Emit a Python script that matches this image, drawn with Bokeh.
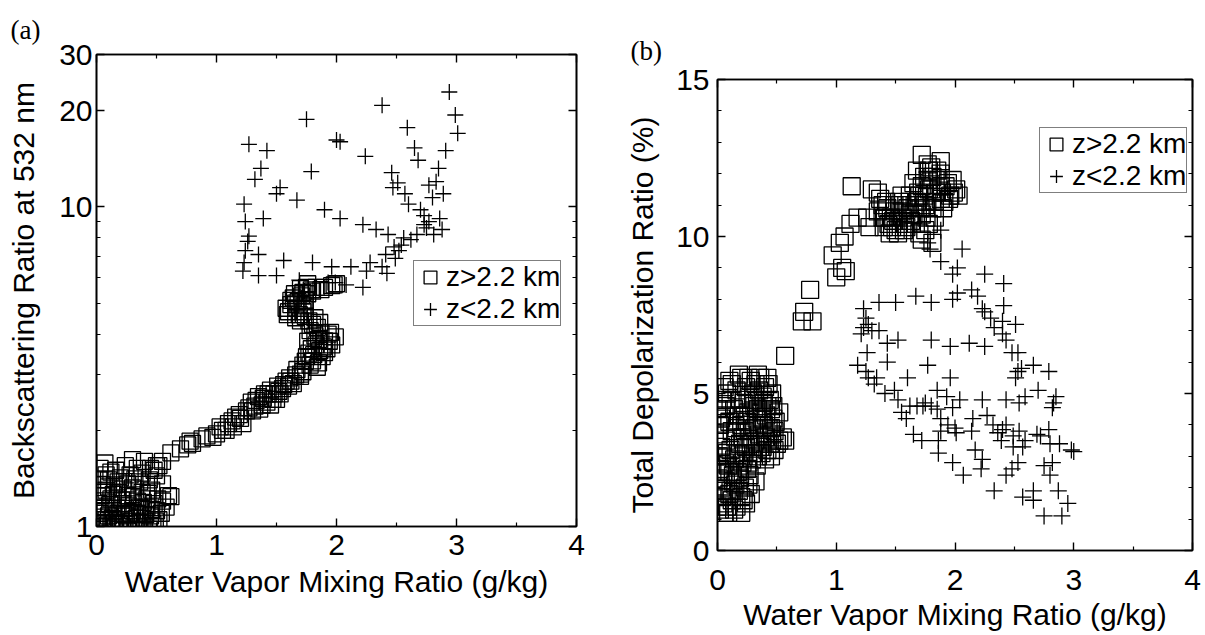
from bokeh.plotting import figure
from bokeh.layouts import row, column
from bokeh.models import (Range1d, FixedTicker, LinearAxis, LogAxis, CustomJSTickFormatter,
                          BasicTickFormatter)
from bokeh.embed import file_html
from bokeh.resources import INLINE

# ---------------- data: panel (a) ----------------
a_hi_x = [0.02, 0.05, 0.08, 0.03, 0.06, 0.10, 0.12, 0.15, 0.18, 0.20, 0.22, 0.25, 0.28, 0.30, 0.33, 0.35,
          0.38, 0.40, 0.42, 0.45, 0.47, 0.50, 0.55, 0.52, 0.04, 0.08, 0.12, 0.15, 0.18, 0.22, 0.26, 0.30,
          0.34, 0.38, 0.42, 0.46, 0.10, 0.20, 0.28, 0.36, 0.44, 0.48, 0.40, 0.52, 0.30, 0.60, 0.58, 0.05,
          0.14, 0.24, 0.32, 0.44, 0.16, 0.08, 0.02, 0.36, 0.26,
          0.01, 0.04, 0.07, 0.09, 0.11, 0.13, 0.17, 0.19, 0.21, 0.23, 0.27, 0.29, 0.31, 0.34, 0.37, 0.39,
          0.41, 0.43, 0.46, 0.49, 0.51, 0.54, 0.02, 0.06, 0.10, 0.14, 0.18, 0.22, 0.26, 0.32, 0.38, 0.45,
          0.50, 0.55, 0.12, 0.24, 0.34, 0.03, 0.07, 0.28, 0.16, 0.40, 0.48, 0.62,
          0.78, 0.80, 0.76, 0.97, 1.03, 1.00, 1.08, 1.13, 1.10, 1.19, 1.16, 1.22, 1.25, 1.29, 1.32, 1.35,
          1.39, 1.42, 1.45, 1.48, 1.51, 1.50, 1.55, 1.58, 1.61, 1.64, 1.67, 1.70, 1.74, 1.72, 1.77, 1.80,
          1.83, 1.86, 1.90, 1.88, 1.96, 1.99, 1.93, 1.87, 1.84, 1.80, 1.78, 1.74, 1.70, 1.67, 1.60, 1.58,
          1.64, 1.66, 1.71, 1.74, 1.76, 1.80, 1.87, 1.96, 1.62, 1.69, 1.76, 1.82, 1.92, 1.85, 1.70, 1.60,
          1.43, 1.38, 1.45, 1.53, 1.30,
          0.50, 0.55, 0.62, 0.70, 0.88, 0.92, 1.05, 1.14, 1.20, 1.27, 1.33, 1.36, 1.40, 1.47, 1.52, 1.56,
          1.62, 1.66, 1.72, 1.75, 1.79, 1.81, 1.85, 1.89, 1.94, 1.90, 1.84, 1.78, 1.95, 1.86, 1.82, 1.77,
          1.72, 1.68, 1.65, 1.70, 1.75, 1.72, 1.62, 1.59, 1.66, 1.73, 1.79, 1.83, 1.90, 1.98, 2.00, 1.76]
a_hi_y = [1.00, 1.02, 1.05, 1.10, 1.15, 1.08, 1.00, 1.03, 1.10, 1.05, 1.00, 1.08, 1.02, 1.12, 1.06, 1.00,
          1.09, 1.04, 1.15, 1.08, 1.02, 1.12, 1.20, 1.05, 1.25, 1.30, 1.22, 1.35, 1.28, 1.18, 1.25, 1.32,
          1.20, 1.28, 1.22, 1.30, 1.40, 1.42, 1.45, 1.38, 1.40, 1.50, 1.60, 1.55, 1.62, 1.25, 1.15, 1.35,
          1.12, 1.14, 0.98, 0.98, 1.50, 1.45, 1.40, 1.15, 0.97,
          1.03, 1.07, 1.12, 1.01, 1.17, 1.06, 1.14, 1.02, 1.21, 1.09, 1.16, 1.04, 1.24, 1.10, 1.03, 1.19,
          1.09, 1.27, 1.13, 1.04, 1.22, 1.10, 1.18, 1.28, 1.33, 1.26, 1.38, 1.31, 1.36, 1.41, 1.47, 1.52,
          1.44, 1.36, 1.48, 1.55, 1.52, 1.52, 1.58, 1.10, 0.99, 0.99, 1.18, 1.24,
          1.85, 1.82, 1.80, 1.90, 2.05, 1.95, 2.00, 2.14, 2.10, 2.24, 2.20, 2.10, 2.30, 2.45, 2.38, 2.55,
          2.52, 2.45, 2.67, 2.60, 2.75, 2.50, 2.70, 2.85, 2.92, 2.80, 3.10, 3.00, 3.29, 3.20, 3.49, 3.30,
          3.70, 3.55, 3.81, 3.40, 3.70, 3.92, 4.00, 4.04, 4.20, 4.29, 4.10, 4.55, 4.40, 4.82, 4.70, 4.82,
          5.19, 5.00, 5.27, 5.10, 5.35, 5.45, 5.51, 5.67, 4.95, 4.60, 3.80, 3.95, 3.60, 3.25, 2.95, 2.75,
          2.60, 2.40, 2.40, 2.60, 2.30,
          1.55, 1.60, 1.70, 1.75, 1.88, 1.92, 2.00, 2.05, 2.18, 2.35, 2.48, 2.33, 2.60, 2.50, 2.65, 2.78,
          2.85, 2.98, 3.05, 3.40, 3.60, 3.45, 3.85, 3.65, 3.80, 3.50, 3.15, 3.20, 4.05, 4.35, 4.50, 4.40,
          4.70, 5.05, 5.35, 5.55, 5.60, 5.40, 5.10, 4.60, 4.50, 4.90, 5.50, 5.60, 5.60, 5.70, 5.75, 5.75]

a_lo_x = [2.94, 2.99, 3.01, 2.91, 2.85, 2.83, 2.89, 2.38, 2.59, 2.65, 2.68, 2.24, 2.46, 2.51, 2.57, 2.60,
          2.77, 2.80, 2.73, 2.86, 2.88, 2.81, 2.73, 2.70, 2.00, 2.03, 1.75, 1.79, 1.67, 1.90, 2.03, 2.22,
          2.33, 2.43, 1.27, 1.42, 1.37, 1.32, 1.53, 1.50, 1.23, 1.39, 1.24, 1.27, 1.24, 1.35, 1.23, 1.22,
          1.35, 1.50, 1.56, 1.80, 1.96, 2.12, 2.25, 1.69, 1.93, 1.99, 2.08, 2.22, 2.28, 2.38, 2.41, 2.48,
          2.54, 2.56, 2.67, 2.49, 2.42, 2.52, 2.62, 2.75, 2.77, 1.26, 2.47]
a_lo_y = [22.9, 19.4, 17.0, 15.0, 13.2, 12.0, 11.0, 20.8, 17.7, 15.3, 14.0, 14.4, 12.8, 11.9, 11.0, 10.2,
          11.7, 10.7, 9.4, 9.2, 8.5, 8.2, 8.8, 9.8, 16.2, 16.0, 18.8, 12.9, 10.5, 9.8, 9.2, 8.8,
          8.5, 8.2, 15.7, 15.0, 13.2, 12.2, 11.5, 11.0, 10.2, 9.2, 9.0, 8.1, 7.3, 7.1, 6.7, 6.3,
          6.1, 6.1, 6.8, 6.7, 6.5, 6.5, 6.3, 5.9, 5.8, 5.8, 5.7, 5.6, 6.7, 6.5, 7.1, 7.5,
          7.6, 8.0, 8.2, 6.9, 6.2, 7.3, 7.9, 8.6, 9.0, 7.8, 11.5]

# ---------------- data: panel (b) ----------------
b_hi_x = [0.57, 0.78, 0.73, 0.71, 0.80, 1.00, 0.97, 1.05, 1.08, 1.07, 1.12, 1.13, 1.30, 1.35, 1.18, 1.26,
          1.28, 1.03,
          1.39, 1.44, 1.49, 1.52, 1.39, 1.49, 1.62, 1.55, 1.45, 1.52, 1.58, 1.65, 1.42, 1.35, 1.47, 1.57,
          1.60,
          1.72, 1.88, 1.68, 1.78, 1.81, 1.88, 1.94, 2.01, 1.96, 1.88, 1.78, 1.72, 1.65, 1.62, 1.59, 1.68,
          1.75, 1.81, 1.88, 1.72, 1.78, 1.72, 1.81, 1.75, 1.84, 1.91, 1.98, 1.70, 1.77,
          1.40, 1.43, 1.46, 1.50, 1.53, 1.56, 1.59, 1.63, 1.66, 1.69, 1.71, 1.74, 1.77, 1.80, 1.83, 1.86,
          1.89, 1.92, 1.95, 1.99, 2.03, 1.85, 1.80, 1.74, 1.67, 1.62, 1.55, 1.48, 1.41, 1.37, 1.90, 1.83,
          1.76, 1.70,
          0.02, 0.05, 0.08, 0.12, 0.16, 0.20, 0.24, 0.03, 0.07, 0.11, 0.15, 0.19, 0.23, 0.27, 0.02, 0.06,
          0.10, 0.14, 0.18, 0.22, 0.26, 0.30, 0.34, 0.38, 0.42, 0.46, 0.03, 0.07, 0.11, 0.15, 0.19, 0.23,
          0.27, 0.31, 0.35, 0.39, 0.43, 0.47, 0.02, 0.06, 0.10, 0.14, 0.18, 0.22, 0.26, 0.30, 0.34, 0.38,
          0.42, 0.46, 0.04, 0.08, 0.12, 0.16, 0.20, 0.24, 0.28, 0.32, 0.36, 0.40, 0.44, 0.55, 0.50, 0.45,
          0.40, 0.48, 0.52, 0.05, 0.09, 0.13, 0.17, 0.21, 0.25, 0.29, 0.33, 0.37, 0.41, 0.45, 0.01, 0.01,
          0.01,
          0.00, 0.04, 0.06, 0.10, 0.14, 0.18, 0.22, 0.26, 0.01, 0.05, 0.09, 0.13, 0.17, 0.21, 0.25, 0.29,
          0.33, 0.37, 0.41, 0.45, 0.49, 0.04, 0.08, 0.12, 0.16, 0.20, 0.24, 0.28, 0.32, 0.36, 0.40, 0.44,
          0.48, 0.03, 0.07, 0.11, 0.15, 0.19, 0.23, 0.27, 0.31, 0.35, 0.39, 0.43, 0.47, 0.10, 0.18, 0.26,
          0.34, 0.42, 0.06, 0.30, 0.38, 0.46, 0.52, 0.57, 0.20, 0.28, 0.32]
b_hi_y = [6.2, 8.3, 7.6, 7.3, 7.3, 8.7, 9.4, 9.0, 8.9, 10.0, 10.4, 11.6, 11.5, 11.4, 10.6, 10.6,
          10.3, 9.8,
          10.6, 10.4, 10.8, 10.5, 11.0, 11.0, 11.1, 10.8, 10.1, 10.1, 10.4, 10.7, 11.1, 10.8, 10.3, 10.2,
          10.9,
          12.6, 12.4, 12.1, 12.1, 11.9, 12.0, 11.7, 11.5, 11.3, 11.6, 11.5, 11.6, 11.7, 11.3, 11.0, 11.1,
          11.0, 10.9, 11.2, 10.7, 10.4, 9.9, 9.8, 10.2, 11.4, 11.1, 11.8, 11.3, 12.3,
          10.3, 10.9, 10.6, 10.2, 11.1, 10.6, 10.3, 10.5, 11.0, 11.4, 10.9, 11.3, 11.8, 11.5, 11.1, 11.8,
          11.4, 11.6, 11.2, 11.4, 11.3, 12.1, 12.2, 11.9, 10.4, 10.7, 11.3, 10.5, 10.6, 11.2, 10.9, 10.6,
          10.6, 10.1,
          1.3, 1.5, 1.4, 1.6, 1.4, 1.7, 1.5, 2.0, 2.2, 1.9, 2.1, 2.3, 2.0, 2.4, 2.6, 2.8,
          2.5, 2.9, 2.7, 3.0, 2.8, 3.1, 3.0, 3.3, 3.2, 3.5, 3.3, 3.5, 3.2, 3.6, 3.4, 3.8,
          3.6, 3.9, 3.7, 4.0, 3.9, 4.2, 4.0, 4.3, 4.1, 4.5, 4.3, 4.7, 4.4, 4.8, 4.5, 4.9,
          4.6, 5.0, 4.8, 5.0, 5.3, 5.1, 5.5, 5.2, 5.4, 5.3, 5.5, 5.2, 4.8, 3.6, 3.4, 3.0,
          2.9, 3.8, 4.4, 1.9, 1.2, 2.4, 3.1, 3.6, 4.1, 4.0, 4.2, 4.4, 4.3, 4.5, 3.0, 3.7,
          4.5,
          1.4, 1.7, 1.2, 1.8, 1.3, 1.9, 1.6, 2.1, 2.3, 2.5, 2.7, 2.2, 2.5, 2.8, 2.6, 2.9,
          2.7, 3.1, 3.6, 3.9, 4.1, 3.0, 3.1, 3.8, 3.9, 4.0, 3.3, 3.4, 3.5, 3.3, 3.6, 3.4,
          3.2, 4.2, 4.6, 4.8, 4.1, 4.8, 4.3, 4.9, 4.6, 5.1, 4.7, 5.3, 4.6, 5.4, 5.6, 5.5,
          5.6, 5.5, 5.2, 5.0, 4.2, 3.7, 3.5, 3.5, 1.2, 1.8, 2.2]

b_lo_x = [1.88, 1.77, 1.79, 2.06, 1.88, 1.98, 2.02, 2.25, 2.41, 2.02, 2.14, 2.19, 2.23, 2.25, 2.41, 2.30,
          2.33, 2.40, 2.40, 2.51, 2.43, 2.48, 2.53, 2.56, 2.53, 2.51, 2.66, 2.79, 2.70, 2.59, 2.54, 2.43,
          2.82, 2.85, 2.83, 2.79, 2.69, 2.72, 2.80, 2.88, 2.98, 3.00, 2.59, 2.54, 2.43, 2.40, 2.27, 2.23,
          2.32, 2.39, 2.36, 2.49,
          1.68, 1.73, 1.80, 1.62, 1.55, 1.59, 1.65, 1.72, 1.86, 1.86, 1.88, 1.88, 1.98, 2.07, 2.22, 2.23,
          2.17, 2.14, 2.15, 2.00, 1.94, 1.98, 2.01, 2.33, 2.43, 2.48, 2.53, 2.57, 2.66, 2.66, 2.75, 2.80,
          2.87, 2.75, 2.90, 2.95, 2.82, 2.57, 2.49,
          1.23, 1.25, 1.27, 1.21, 1.23, 1.30, 1.36, 1.26, 1.36, 1.50, 1.67, 1.80, 1.98, 1.43, 1.52, 1.80,
          1.96, 2.12, 2.25, 1.18, 1.25, 1.27, 1.34, 1.32, 1.43, 1.41, 1.49, 1.52, 1.60, 1.77, 1.85, 1.93,
          1.96, 2.04, 1.85, 1.75]
b_lo_y = [10.2, 9.8, 9.6, 9.6, 9.2, 8.8, 9.0, 8.8, 8.5, 8.2, 8.3, 8.1, 7.7, 7.6, 7.8, 7.4,
          7.1, 6.9, 7.3, 7.2, 6.7, 6.3, 6.3, 5.8, 5.7, 5.5, 5.9, 5.7, 5.1, 4.9, 4.7, 4.8,
          4.55, 4.9, 4.7, 3.85, 3.7, 3.65, 3.4, 3.4, 3.2, 3.15, 3.5, 3.8, 4.0, 3.85, 4.3, 4.8,
          4.0, 3.5, 3.75, 3.65,
          4.6, 4.6, 4.6, 4.6, 4.4, 4.2, 3.7, 3.5, 3.1, 3.5, 4.2, 3.8, 2.8, 2.4, 2.6, 2.9,
          3.2, 3.8, 4.2, 3.9, 4.0, 4.55, 3.75, 1.9, 2.4, 2.6, 2.8, 1.7, 1.9, 1.6, 2.7, 2.4,
          1.9, 1.1, 1.1, 1.5, 2.8, 3.3, 3.3,
          7.7, 7.4, 7.2, 6.9, 7.1, 7.0, 7.0, 6.3, 7.9, 7.9, 8.1, 7.9, 8.0, 6.6, 6.7, 6.7,
          6.5, 6.6, 6.5, 5.9, 5.7, 5.5, 5.5, 5.3, 6.0, 5.0, 5.1, 4.8, 5.5, 5.9, 5.1, 4.9,
          5.5, 4.8, 4.5, 4.7]

x_ticks = [0, 1, 2, 3, 4]
x_minor = [0.5, 1.5, 2.5, 3.5]
a_y_ticks = [1, 10, 20, 30]
a_y_minor = [2, 3, 4, 5, 6, 7, 8, 9]
b_y_ticks = [0, 5, 10, 15]
b_y_minor = [1, 2, 3, 4, 6, 7, 8, 9, 11, 12, 13, 14]

label_hi = "z>2.2 km"
label_lo = "z<2.2 km"
x_title = "Water Vapor Mixing Ratio (g/kg)"
a_y_title = "Backscattering Ratio at 532 nm"
b_y_title = "Total Depolarization Ratio (%)"

FONT = "Liberation Sans"
SERIF = "Liberation Serif"
TICK_FS = "30px"
TITLE_FS = "30px"


def style_axis(ax, show_labels=True):
    ax.axis_line_color = "black"
    ax.axis_line_width = 1.6
    ax.major_tick_line_color = "black"
    ax.major_tick_line_width = 1.4
    ax.minor_tick_line_color = "black"
    ax.minor_tick_line_width = 1.2
    ax.major_tick_in = 8
    ax.major_tick_out = 0
    ax.minor_tick_in = 4
    ax.minor_tick_out = 0
    ax.major_label_text_font = FONT
    ax.major_label_text_color = "black"
    ax.axis_label_text_font = FONT
    ax.axis_label_text_font_style = "normal"
    ax.axis_label_text_font_size = TITLE_FS
    ax.axis_label_text_color = "black"
    if show_labels:
        ax.major_label_text_font_size = TICK_FS
    else:
        ax.formatter = CustomJSTickFormatter(code="return ''")
        ax.major_label_text_font_size = "1px"
        ax.major_label_standoff = 0


def make_panel(width, height, left, right, top, bottom, y_log, y_rng, y_ticks, y_minor):
    kw = dict(width=width, height=height, output_backend="svg", toolbar_location=None,
              x_range=Range1d(0, 4), y_range=Range1d(*y_rng),
              min_border_left=left, min_border_right=right,
              min_border_top=top, min_border_bottom=bottom)
    if y_log:
        kw["y_axis_type"] = "log"
    p = figure(**kw)
    p.grid.visible = False
    p.outline_line_color = "black"
    p.outline_line_width = 1.6
    p.background_fill_color = "white"
    p.border_fill_color = "white"

    p.xaxis.ticker = FixedTicker(ticks=x_ticks, minor_ticks=x_minor)
    p.yaxis.ticker = FixedTicker(ticks=y_ticks, minor_ticks=y_minor)
    p.yaxis.formatter = BasicTickFormatter()
    p.xaxis.axis_label = x_title
    for ax in p.xaxis + p.yaxis:
        style_axis(ax)

    top_ax = LinearAxis(ticker=FixedTicker(ticks=x_ticks, minor_ticks=x_minor))
    style_axis(top_ax, show_labels=False)
    p.add_layout(top_ax, "above")
    if y_log:
        right_ax = LogAxis(ticker=FixedTicker(ticks=y_ticks, minor_ticks=y_minor))
    else:
        right_ax = LinearAxis(ticker=FixedTicker(ticks=y_ticks, minor_ticks=y_minor))
    style_axis(right_ax, show_labels=False)
    p.add_layout(right_ax, "right")
    return p


def style_legend(p, loc):
    lg = p.legend[0]
    lg.location = loc
    lg.label_text_font = FONT
    lg.label_text_font_size = "28px"
    lg.label_text_color = "black"
    lg.border_line_color = "black"
    lg.border_line_width = 1.2
    lg.background_fill_alpha = 1.0
    lg.glyph_width = 32
    lg.glyph_height = 32
    lg.label_standoff = 0
    lg.padding = 0
    lg.spacing = -8
    lg.margin = 0
    lg.label_height = 20


def panel_title(p, text, offset, standoff, valign):
    p.title.text = text
    p.title.text_font = SERIF
    p.title.text_font_size = "27px"
    p.title.text_font_style = "normal"
    p.title.text_color = "black"
    p.title.align = "left"
    p.title.vertical_align = valign
    p.title.offset = offset
    p.title.standoff = standoff


# ---------------- panel (a) ----------------
pa = make_panel(600, 635, 96, 24, 54, 109, True, (1, 30), a_y_ticks, a_y_minor)
pa.left[0].axis_label = a_y_title
pa.below[0].major_label_standoff = 8
pa.below[0].axis_label_standoff = 7
pa.left[0].major_label_standoff = 4
pa.left[0].axis_label_standoff = 16
pa.scatter(a_hi_x, a_hi_y, marker="square", size=16, fill_color=None, line_color="black",
           line_width=1.3, legend_label=label_hi)
pa.scatter(a_lo_x, a_lo_y, marker="cross", size=16, line_color="black", line_width=1.3,
           legend_label=label_lo)
style_legend(pa, (317, 200))
panel_title(pa, "(a)", -86, 15, "top")

# ---------------- panel (b) ----------------
pb = make_panel(605, 635, 117, 13, 79, 85, False, (0, 15), b_y_ticks, b_y_minor)
pb.left[0].axis_label = b_y_title
pb.below[0].major_label_standoff = 19
pb.below[0].axis_label_standoff = 5
pb.left[0].major_label_standoff = 8
pb.left[0].axis_label_standoff = 14
pb.scatter(b_hi_x, b_hi_y, marker="square", size=17, fill_color=None, line_color="black",
           line_width=1.3, legend_label=label_hi)
pb.scatter(b_lo_x, b_lo_y, marker="cross", size=17, line_color="black", line_width=1.3,
           legend_label=label_lo)
style_legend(pb, (322, 357))
panel_title(pb, "(b)", -87, 26, "middle")

layout = row(column(pa), column(pb))
open("out.html", "w").write(file_html(layout, INLINE))
